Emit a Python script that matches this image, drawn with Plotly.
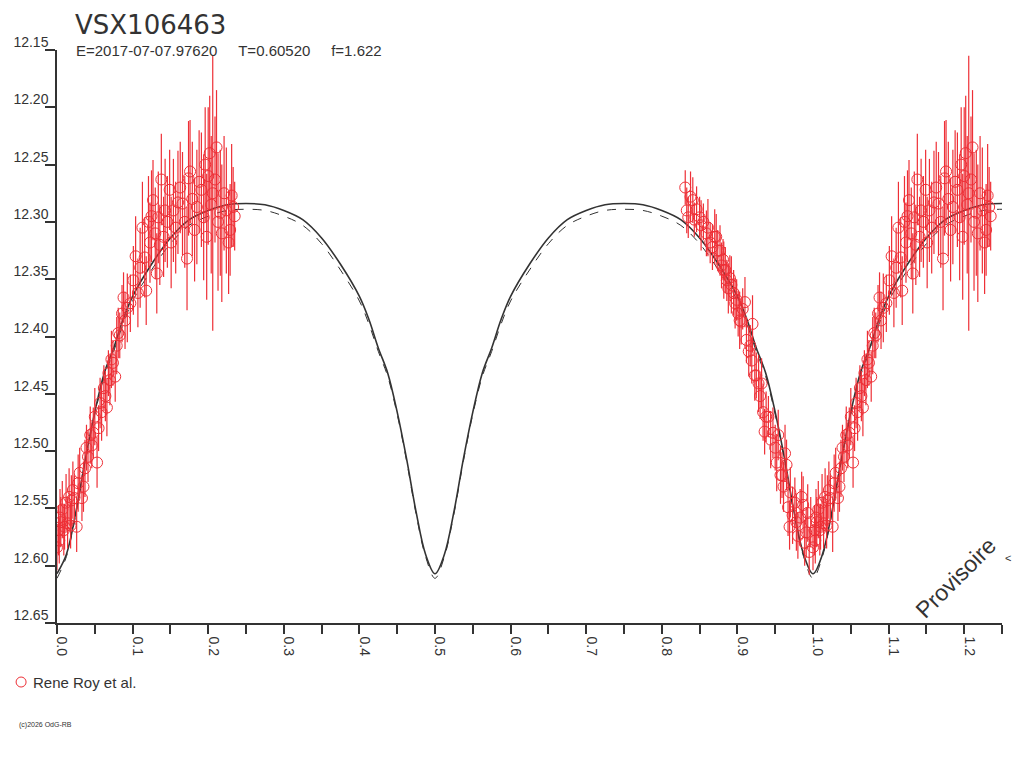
import plotly.graph_objects as go

# light curve phase diagram of VSX106463
star = "VSX106463"
elements = "E=2017-07-07.97620     T=0.60520     f=1.622"
observer = "Rene Roy et al."

# fitted model, one cycle (phase 0..1)
model_phase = [0.0, 0.0125, 0.025, 0.0375, 0.05, 0.0625, 0.075, 0.0875, 0.1, 0.125,
               0.15, 0.175, 0.2, 0.225, 0.25, 0.275, 0.3, 0.325, 0.35, 0.375,
               0.4, 0.4125, 0.425, 0.4375, 0.45, 0.4625, 0.475, 0.4875, 0.5,
               0.5125, 0.525, 0.5375, 0.55, 0.5625, 0.575, 0.5875, 0.6, 0.625,
               0.65, 0.675, 0.7, 0.725, 0.75, 0.775, 0.8, 0.825, 0.85, 0.875,
               0.9, 0.9125, 0.925, 0.9375, 0.95, 0.9625, 0.975, 0.9875, 1.0]
model_mag = [12.607, 12.590, 12.553, 12.507, 12.466, 12.432, 12.410, 12.385, 12.365, 12.337,
             12.314, 12.298, 12.290, 12.285, 12.284, 12.285, 12.290, 12.298, 12.314, 12.337,
             12.365, 12.385, 12.410, 12.432, 12.466, 12.507, 12.553, 12.590, 12.607,
             12.590, 12.553, 12.507, 12.466, 12.432, 12.410, 12.385, 12.365, 12.337,
             12.314, 12.298, 12.290, 12.285, 12.284, 12.285, 12.290, 12.298, 12.314, 12.337,
             12.365, 12.385, 12.410, 12.432, 12.466, 12.507, 12.553, 12.590, 12.607]
model_mag_alt = [12.611, 12.592, 12.555, 12.509, 12.468, 12.435, 12.413, 12.389, 12.369, 12.342,
                 12.319, 12.303, 12.295, 12.290, 12.289, 12.290, 12.295, 12.303, 12.319, 12.342,
                 12.369, 12.389, 12.413, 12.435, 12.468, 12.509, 12.555, 12.592, 12.611,
                 12.592, 12.555, 12.509, 12.468, 12.435, 12.413, 12.389, 12.369, 12.342,
                 12.319, 12.303, 12.295, 12.290, 12.289, 12.290, 12.295, 12.303, 12.319, 12.342,
                 12.369, 12.389, 12.413, 12.435, 12.468, 12.509, 12.555, 12.592, 12.611]

# observations: phase, magnitude, error
obs_phase = [0.831, 0.833, 0.835, 0.838, 0.841, 0.843, 0.846, 0.850, 0.852, 0.855,
             0.859, 0.861, 0.864, 0.867, 0.870, 0.872, 0.874, 0.877, 0.879, 0.881,
             0.882, 0.884, 0.886, 0.888, 0.890, 0.892, 0.895, 0.897, 0.899, 0.901,
             0.903, 0.905, 0.907, 0.910, 0.912, 0.915, 0.917, 0.919, 0.920, 0.923,
             0.925, 0.928, 0.930, 0.932, 0.934, 0.936, 0.938, 0.941, 0.944, 0.947,
             0.950, 0.952, 0.954, 0.957, 0.959, 0.961, 0.963, 0.965, 0.967, 0.969,
             0.970, 0.973, 0.976, 0.978, 0.980, 0.983, 0.985, 0.987, 0.989, 0.991,
             0.993, 0.995, 0.997,
             0.000, 0.002, 0.003, 0.004, 0.005, 0.007, 0.009, 0.010, 0.012, 0.014,
             0.016, 0.018, 0.019, 0.021, 0.023, 0.026, 0.028, 0.030, 0.033, 0.035,
             0.037, 0.039, 0.041, 0.044, 0.046, 0.048, 0.050, 0.053, 0.055, 0.057,
             0.059, 0.062, 0.064, 0.066, 0.068, 0.070, 0.072, 0.074, 0.077, 0.079,
             0.081, 0.083, 0.086, 0.088, 0.090, 0.093, 0.097, 0.101, 0.104, 0.107,
             0.110, 0.113, 0.116, 0.118, 0.121, 0.123, 0.125, 0.127, 0.130, 0.132,
             0.134, 0.136, 0.138, 0.141, 0.143, 0.146, 0.149, 0.151, 0.154, 0.157,
             0.160, 0.163, 0.166, 0.169, 0.172, 0.174, 0.176, 0.179, 0.182, 0.185,
             0.188, 0.191, 0.194, 0.196, 0.198, 0.200, 0.202, 0.204, 0.206, 0.209,
             0.211, 0.213, 0.216, 0.218, 0.221, 0.224, 0.227, 0.229, 0.231, 0.233,
             0.235]
obs_mag = [12.270, 12.290, 12.296, 12.278, 12.281, 12.298, 12.289, 12.296, 12.303, 12.300,
           12.310, 12.305, 12.318, 12.322, 12.313, 12.313, 12.325, 12.325, 12.338, 12.333,
           12.342, 12.342, 12.351, 12.358, 12.349, 12.355, 12.362, 12.371, 12.368, 12.380,
           12.386, 12.387, 12.376, 12.370, 12.403, 12.413, 12.408, 12.421, 12.389, 12.434,
           12.434, 12.441, 12.452, 12.441, 12.466, 12.483, 12.470, 12.470, 12.490, 12.484,
           12.497, 12.510, 12.486, 12.521, 12.521, 12.531, 12.502, 12.512, 12.549, 12.566,
           12.536, 12.556, 12.545, 12.562, 12.574, 12.558, 12.540, 12.547, 12.580, 12.571,
           12.554, 12.588, 12.562,
           12.584, 12.569, 12.578, 12.558, 12.562, 12.551, 12.569, 12.566, 12.545, 12.563,
           12.540, 12.565, 12.543, 12.534, 12.541, 12.566, 12.528, 12.519, 12.541, 12.531,
           12.515, 12.497, 12.505, 12.486, 12.495, 12.484, 12.470, 12.510, 12.480, 12.458,
           12.466, 12.445, 12.452, 12.462, 12.432, 12.438, 12.420, 12.423, 12.435, 12.408,
           12.397, 12.399, 12.380, 12.366, 12.386, 12.375, 12.371, 12.351, 12.330, 12.362,
           12.340, 12.305, 12.331, 12.360, 12.300, 12.318, 12.295, 12.281, 12.310, 12.345,
           12.296, 12.320, 12.263, 12.313, 12.290, 12.300, 12.272, 12.318, 12.290, 12.305,
           12.283, 12.270, 12.284, 12.300, 12.332, 12.262, 12.256, 12.280, 12.307, 12.287,
           12.265, 12.272, 12.296, 12.250, 12.313, 12.260, 12.240, 12.285, 12.275, 12.263,
           12.235, 12.300, 12.292, 12.310, 12.275, 12.290, 12.318, 12.307, 12.277, 12.287,
           12.295]
obs_err = [0.015, 0.020, 0.018, 0.022, 0.020, 0.015, 0.020, 0.018, 0.022, 0.016,
           0.020, 0.025, 0.018, 0.020, 0.024, 0.020, 0.018, 0.022, 0.020, 0.018,
           0.025, 0.020, 0.018, 0.022, 0.020, 0.025, 0.020, 0.022, 0.018, 0.020,
           0.025, 0.020, 0.018, 0.022, 0.020, 0.022, 0.018, 0.020, 0.025, 0.022,
           0.020, 0.025, 0.020, 0.022, 0.025, 0.020, 0.022, 0.018, 0.025, 0.022,
           0.020, 0.025, 0.022, 0.025, 0.020, 0.022, 0.025, 0.022, 0.025, 0.020,
           0.022, 0.025, 0.022, 0.025, 0.020, 0.025, 0.022, 0.025, 0.020, 0.022,
           0.025, 0.020, 0.022,
           0.020, 0.022, 0.020, 0.025, 0.022, 0.025, 0.022, 0.020, 0.025, 0.022,
           0.025, 0.020, 0.022, 0.025, 0.020, 0.022, 0.025, 0.022, 0.020, 0.022,
           0.025, 0.020, 0.022, 0.025, 0.020, 0.022, 0.025, 0.022, 0.020, 0.022,
           0.025, 0.020, 0.022, 0.025, 0.020, 0.022, 0.025, 0.020, 0.022, 0.025,
           0.022, 0.020, 0.025, 0.022, 0.025, 0.030, 0.025, 0.030, 0.035, 0.030,
           0.035, 0.040, 0.035, 0.030, 0.040, 0.035, 0.040, 0.035, 0.040, 0.035,
           0.040, 0.035, 0.040, 0.035, 0.045, 0.040, 0.035, 0.040, 0.045, 0.040,
           0.045, 0.040, 0.045, 0.040, 0.045, 0.050, 0.045, 0.050, 0.045, 0.050,
           0.045, 0.050, 0.055, 0.050, 0.055, 0.060, 0.050, 0.060, 0.120, 0.055,
           0.050, 0.060, 0.055, 0.060, 0.050, 0.055, 0.045, 0.040, 0.045, 0.035,
           0.030]

RED = "#ee2f36"
INK = "#333333"
FONT = "Liberation Sans, Arial, sans-serif"

# the diagram runs to phase 1.25, so the first quarter cycle is drawn again at +1
mx = list(model_phase) + [p + 1 for p in model_phase if 0 < p <= 0.25]
my = list(model_mag) + [m for p, m in zip(model_phase, model_mag) if 0 < p <= 0.25]
my_alt = list(model_mag_alt) + [m for p, m in zip(model_phase, model_mag_alt) if 0 < p <= 0.25]

ox, oy, oe = list(obs_phase), list(obs_mag), list(obs_err)
for p, m, e in zip(obs_phase, obs_mag, obs_err):
    if p <= 0.25:
        ox.append(p + 1)
        oy.append(m)
        oe.append(e)

fig = go.Figure()
fig.add_trace(go.Scatter(x=mx, y=my_alt, mode="lines", line=dict(color=INK, width=1, dash="dash", shape="spline"),
                         showlegend=False, hoverinfo="skip"))
fig.add_trace(go.Scatter(x=mx, y=my, mode="lines", line=dict(color=INK, width=1.6, shape="spline"),
                         showlegend=False, hoverinfo="skip"))
fig.add_trace(go.Scatter(x=ox, y=oy, mode="markers", name=observer, showlegend=False,
                         marker=dict(symbol="circle-open", size=11, color=RED, line=dict(width=1, color=RED)),
                         error_y=dict(type="data", array=oe, color=RED, thickness=1.2, width=0)))

# the page body adds 8px, so the figure is 8px smaller on each side
fig.update_layout(
    width=1016, height=760,
    margin=dict(l=49, r=22, t=42, b=145),
    paper_bgcolor="white", plot_bgcolor="white",
    font=dict(family=FONT, color=INK, size=14),
    showlegend=False,
)
fig.update_xaxes(range=[0, 1.25], showgrid=False, zeroline=False, showline=True, linecolor=INK, linewidth=1.5,
                 ticks="outside", ticklen=9, tickwidth=1.5, tickcolor=INK, dtick=0.1, tick0=0,
                 tickformat=".1f", tickangle=90, ticklabelshift=5, automargin=False,
                 tickfont=dict(size=14, color=INK),
                 minor=dict(dtick=0.05, tick0=0, ticks="outside", ticklen=9, tickwidth=1.5, tickcolor=INK))
fig.update_yaxes(range=[12.65, 12.15], showgrid=False, zeroline=False, showline=True, linecolor=INK, linewidth=1.5,
                 ticks="outside", ticklen=10, tickwidth=1.5, tickcolor=INK, dtick=0.05, tick0=12.15,
                 tickformat=".2f", ticklabelshift=8, ticklabelstandoff=-6, automargin=False,
                 tickfont=dict(size=14, color=INK))

# legend entry drawn by hand, as in the original software
fig.add_shape(type="circle", xref="paper", yref="paper", xsizemode="pixel", ysizemode="pixel",
              xanchor=-0.038, yanchor=-0.103, x0=-5, x1=5, y0=-5, y1=5, line=dict(color=RED, width=1))
fig.add_annotation(text=observer, xref="paper", yref="paper", x=-0.027, y=-0.103, xanchor="left",
                   yanchor="middle", showarrow=False, font=dict(size=15, color=INK))

fig.add_annotation(text=star, xref="paper", yref="paper", x=0.018, y=1.0716, xanchor="left", yanchor="top",
                   borderpad=0, showarrow=False, font=dict(family="DejaVu Sans", size=26, color=INK))
fig.add_annotation(text=elements.replace(" ", "&nbsp;"), xref="paper", yref="paper", x=0.019, y=1.0,
                   xanchor="left", yanchor="middle", borderpad=0, showarrow=False, font=dict(size=15, color=INK))
fig.add_annotation(text="Provisoire", xref="paper", yref="paper", x=0.951, y=0.078, textangle=-45,
                   xanchor="center", yanchor="middle", showarrow=False, font=dict(size=23, color=INK))
fig.add_annotation(text="<", xref="paper", yref="paper", x=1.006, y=0.113, xanchor="center", yanchor="middle",
                   showarrow=False, font=dict(size=11, color=INK))
fig.add_annotation(text="(c)2026 OdG-RB", xref="paper", yref="paper", x=-0.042, y=-0.178, xanchor="left",
                   yanchor="middle", showarrow=False, font=dict(size=7, color=INK))

fig.write_html("out.html")
